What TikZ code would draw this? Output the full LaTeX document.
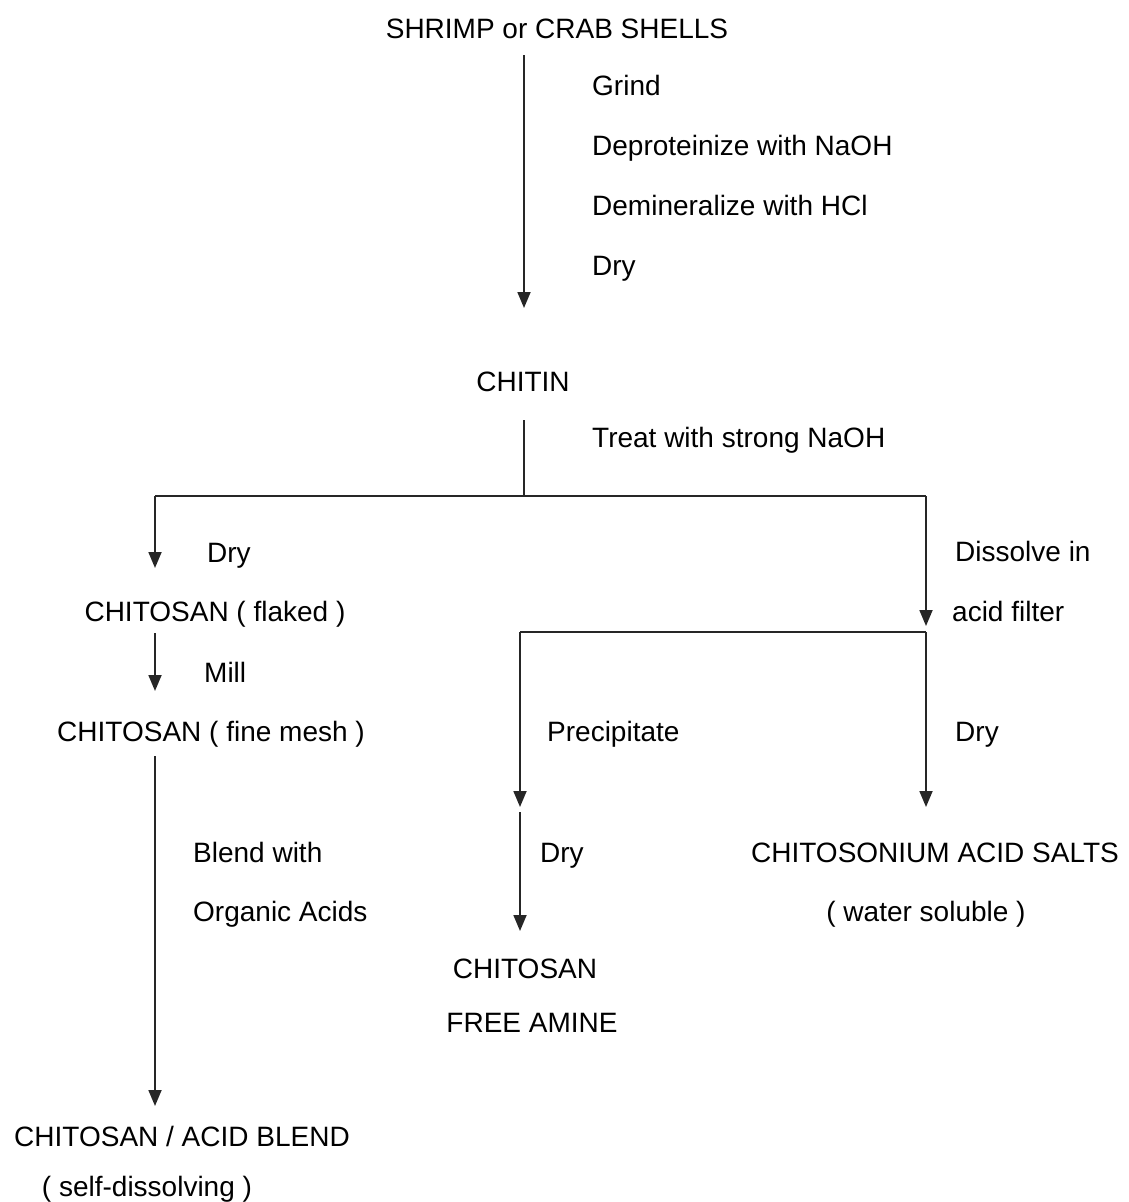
\documentclass[tikz,border=0pt]{standalone}
\usepackage{fontspec}
\setmainfont{Liberation Sans}
\usetikzlibrary{arrows.meta}
\tikzset{
  txt/.style={inner sep=0pt, anchor=base, font=\fontsize{28}{34}\selectfont},
  lbl/.style={txt, anchor=base west},
  conn/.style={line width=1.8pt, draw=black!85},
  arr/.style={conn, -{Triangle[width=13pt,length=16pt]}}
}
\begin{document}
\begin{tikzpicture}[x=1pt,y=-1pt]
\useasboundingbox (0,0) rectangle (1129,1202);
% main nodes
\node[txt] (shells) at (557,38) {SHRIMP or CRAB SHELLS};
\node[txt] (chitin) at (523,391) {CHITIN};
\node[txt] (flaked) at (215,621) {CHITOSAN ( flaked )};
\node[txt] (mesh) at (211,741) {CHITOSAN ( fine mesh )};
\node[txt] (blend) at (182,1146) {CHITOSAN / ACID BLEND};
\node[txt] (blend2) at (147,1196) {( self-dissolving )};
\node[txt] (salts) at (935,862) {CHITOSONIUM ACID SALTS};
\node[txt] (salts2) at (926,921) {( water soluble )};
\node[txt] (amine) at (525,978) {CHITOSAN};
\node[txt] (amine2) at (532,1032) {FREE AMINE};
% labels
\node[lbl] (l1) at (592,95) {Grind};
\node[lbl] (l2) at (592,155) {Deproteinize with NaOH};
\node[lbl] (l3) at (592,215) {Demineralize with HCl};
\node[lbl] (l4) at (592,275) {Dry};
\node[lbl] (l5) at (592,447) {Treat with strong NaOH};
\node[lbl] (l6) at (207,562) {Dry};
\node[lbl] (l7) at (204,682) {Mill};
\node[lbl] (l8) at (193,862) {Blend with};
\node[lbl] (l9) at (193,921) {Organic Acids};
\node[lbl] (l10) at (955,561) {Dissolve in};
\node[lbl] (l11) at (952,621) {acid filter};
\node[lbl] (l12) at (547,741) {Precipitate};
\node[lbl] (l13) at (955,741) {Dry};
\node[lbl] (l14) at (540,862) {Dry};
% connector points
\coordinate (a0) at (524,55);
\coordinate (a1) at (524,308);
\coordinate (c0) at (524,420);
\coordinate (j0) at (524,496);
\coordinate (jl) at (155,496);
\coordinate (jr) at (926,496);
\coordinate (t1) at (155,568);
\coordinate (s2) at (155,633);
\coordinate (t2) at (155,691);
\coordinate (s3) at (155,756);
\coordinate (t3) at (155,1106);
\coordinate (t4) at (926,626);
\coordinate (k0) at (926,632);
\coordinate (kl) at (520,632);
\coordinate (t5) at (520,807);
\coordinate (s6) at (520,812);
\coordinate (t6) at (520,931);
\coordinate (t7) at (926,807);
% connectors
\draw[arr] (a0) -- (a1);
\draw[conn] (c0) -- (j0);
\draw[conn] (jl) -- (jr);
\draw[arr] (jl) -- (t1);
\draw[arr] (s2) -- (t2);
\draw[arr] (s3) -- (t3);
\draw[arr] (jr) -- (t4);
\draw[conn] (kl) -- (k0);
\draw[arr] (kl) -- (t5);
\draw[arr] (s6) -- (t6);
\draw[arr] (k0) -- (t7);
\end{tikzpicture}
\end{document}
